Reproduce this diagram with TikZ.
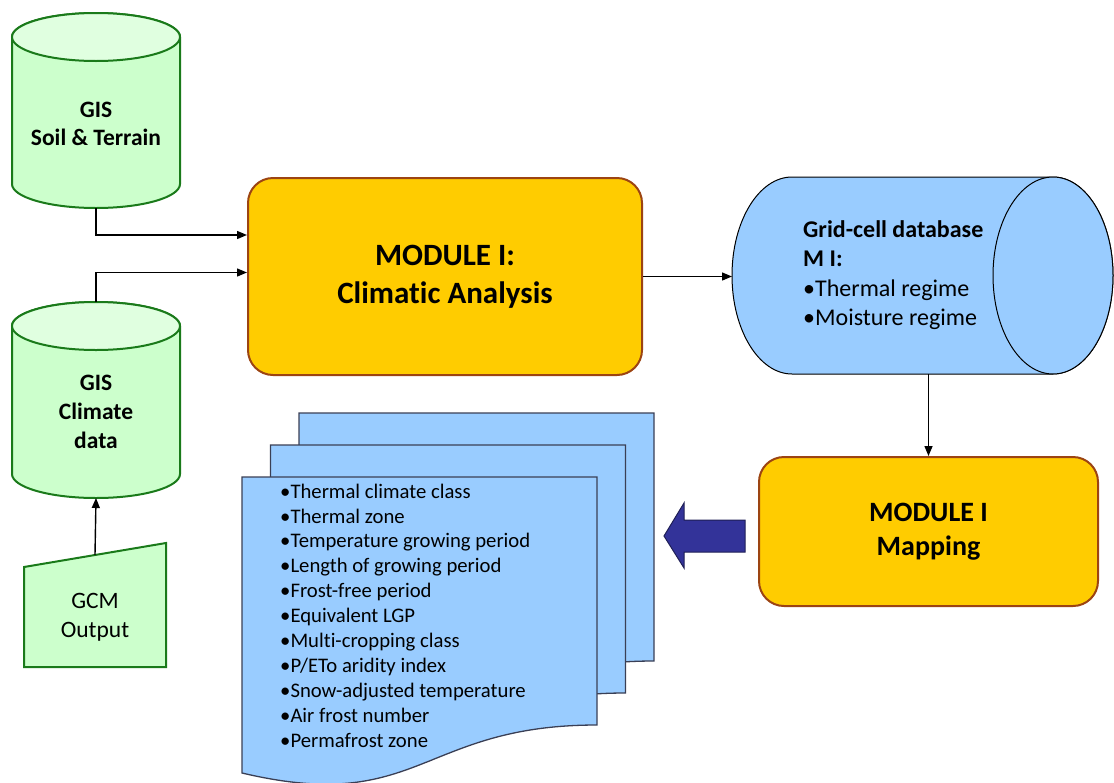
\documentclass[tikz,border=0pt]{standalone}
\usepackage{fontspec}
\setmainfont{Carlito}[Ligatures=NoCommon]
\usetikzlibrary{calc,arrows.meta}

\definecolor{cylgreen}{HTML}{CCFFCC}
\definecolor{capgreen}{HTML}{E0FFE0}
\definecolor{edgegreen}{HTML}{1A7A1A}
\definecolor{modgold}{HTML}{FFCC00}
\definecolor{modedge}{HTML}{9C4412}
\definecolor{dbblue}{HTML}{99CCFF}
\definecolor{pageedge}{HTML}{3A3F55}
\definecolor{arrowblue}{HTML}{333399}
\definecolor{arrowedge}{HTML}{1F1F55}

\begin{document}
\begin{tikzpicture}[x=1pt,y=1pt,
        box/.style={inner sep=0pt,outer sep=0pt},
        module/.style={draw=modedge,fill=modgold,line width=2pt,rounded corners=25pt,inner sep=0pt,align=center},
        flow/.style={-{Triangle[length=10pt,width=8pt]},line width=1.4pt},
        gisedge/.style={draw=edgegreen,line width=2pt}]
    \useasboundingbox (0,0) rectangle (1114,-782);

    % GIS data bases on the left
    \node[box,minimum width=168pt,minimum height=195pt] (soil) at (96,-110.5) {};
    \draw[gisedge,fill=cylgreen] ($(soil.north west)+(0,-24)$) -- ($(soil.south west)+(0,24)$)
        arc[start angle=180,end angle=360,x radius=84,y radius=24] -- ($(soil.north east)+(0,-24)$)
        arc[start angle=0,end angle=180,x radius=84,y radius=24] -- cycle;
    \draw[gisedge,fill=capgreen] ($(soil.north)+(0,-24)$) ellipse[x radius=84,y radius=24];
    \node[align=center,font=\bfseries\fontsize{23.5}{28}\selectfont] (soiltext) at (96,-124) {GIS\\Soil \& Terrain};

    \node[box,minimum width=168pt,minimum height=196pt] (clim) at (96,-400) {};
    \draw[gisedge,fill=cylgreen] ($(clim.north west)+(0,-24)$) -- ($(clim.south west)+(0,24)$)
        arc[start angle=180,end angle=360,x radius=84,y radius=24] -- ($(clim.north east)+(0,-24)$)
        arc[start angle=0,end angle=180,x radius=84,y radius=24] -- cycle;
    \draw[gisedge,fill=capgreen] ($(clim.north)+(0,-24)$) ellipse[x radius=84,y radius=24];
    \node[align=center,font=\bfseries\fontsize{23.5}{29}\selectfont] (climtext) at (96,-412) {GIS\\Climate\\data};

    \node[box,minimum width=142pt,minimum height=124pt] (gcm) at (95,-605) {};
    \draw[gisedge,fill=cylgreen] (gcm.south west) -- ($(gcm.north west)+(0,-24)$) -- (gcm.north east) -- (gcm.south east) -- cycle;
    \node[align=center,font=\fontsize{23.5}{29}\selectfont] (gcmtext) at (95,-617) {GCM\\Output};

    % modules
    \node[module,minimum width=394pt,minimum height=197pt,font=\bfseries\fontsize{31}{38}\selectfont] (climmod) at (445,-276.5) {MODULE I:\\Climatic Analysis};
    \node[module,minimum width=339pt,minimum height=149pt,font=\bfseries\fontsize{28}{34}\selectfont] (mapmod) at (928.5,-531.5) {MODULE I\\Mapping};

    % grid-cell data base
    \node[box,minimum width=381pt,minimum height=197pt] (grid) at (922.5,-275.5) {};
    \draw[fill=dbblue,line width=1pt] ($(grid.north west)+(60,0)$) -- ($(grid.north east)+(-60,0)$)
        arc[start angle=90,end angle=-90,x radius=60,y radius=98.5] -- ($(grid.south west)+(60,0)$)
        arc[start angle=270,end angle=90,x radius=60,y radius=98.5] -- cycle;
    \draw[fill=dbblue,line width=1pt] ($(grid.east)+(-60,0)$) ellipse[x radius=60,y radius=98.5];
    \node[anchor=west,align=left,inner sep=0pt,font=\fontsize{24}{29.3}\selectfont] (gridtext) at (803,-275)
        {\textbf{Grid-cell database}\\\textbf{M I:}\\•Thermal regime\\•Moisture regime};

    % connectors
    \draw[flow] (soil.south) |- ($(climmod.west)+(0,41.5)$);
    \draw[flow] (clim.north) |- ($(climmod.west)+(0,4)$);
    \draw[flow] ($(gcm.north)+(0,-12)$) -- (clim.south);
    \draw[flow] (climmod.east) -- (climmod.east -| grid.west);
    \draw[flow] (grid.south -| mapmod.north) -- (mapmod.north);

    % output maps
    \foreach \i in {2,1,0}
        \draw[fill=dbblue,draw=pageedge,line width=1.3pt,shift={(\i*28.5,\i*32)}] (242,-477) -- (597,-477) -- (597,-725)
            .. controls (420,-725) and (420,-815) .. (242,-773) -- cycle;
    \node[anchor=west,align=left,inner sep=0pt,font=\fontsize{20.7}{24.9}\selectfont] (doclist) at (280,-615.5)
        {•Thermal climate class\\•Thermal zone\\•Temperature growing period\\•Length of growing period\\
         •Frost-free period\\•Equivalent LGP\\•Multi-cropping class\\•P/ETo aridity index\\
         •Snow-adjusted temperature\\•Air frost number\\•Permafrost zone};

    \draw[fill=arrowblue,draw=arrowedge,line width=1pt] (664,-536) -- (684,-503) -- (684,-520) -- (745,-520)
        -- (745,-552) -- (684,-552) -- (684,-568) -- cycle;
\end{tikzpicture}
\end{document}
